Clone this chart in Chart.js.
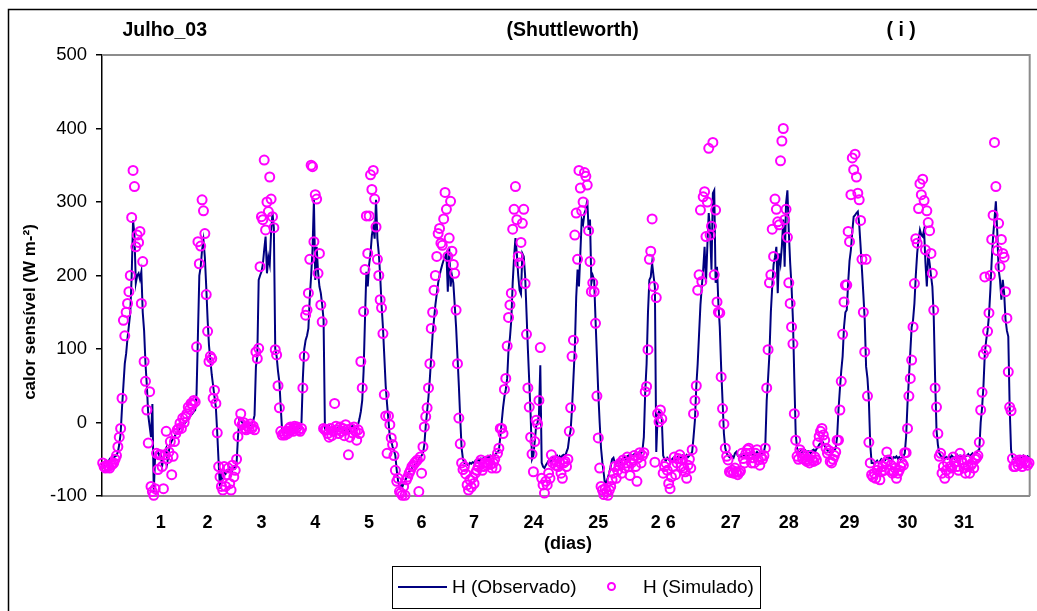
<!DOCTYPE html>
<html>
<head>
<meta charset="utf-8">
<title>Julho_03 (Shuttleworth)</title>
<script src="https://cdn.jsdelivr.net/npm/chart.js@4.4.0/dist/chart.umd.min.js"></script>
<style>
  body { margin: 0; background: #fff; }
  canvas { display: block; }
</style>
</head>
<body>
<canvas id="chart" width="1037" height="611"></canvas>
<script>
// day labels on the x axis and the half-hour slot where each one sits
const dayTickIndex = [42, 76, 115, 154, 193, 231, 269, 312, 359, 406, 455, 497, 541, 583, 624];
const dayTickText = ['1', '2', '3', '4', '5', '6', '7', '24', '25', '2 6', '27', '28', '29', '30', '31'];

// H observed (W m-2), half-hourly
const observado = [
  -55,-57,-52,-52,-54,-50,-53,-50,-48,-46,-45,-40,-30,-15,20,50,80,94,115,132,150,200,275,255,190,200,203,195,205,150,125,80,50,10,-5,-20,25,-95,
  -45,-42,-40,-45,-42,-60,-48,-40,-35,-52,-38,-30,-25,-22,-20,-15,-14,-10,-8,-6,-3,-2,0,3,5,8,10,12,15,17,
  40,120,200,212,235,248,225,185,140,105,85,65,50,35,20,-15,-55,-90,-70,
  -75,-68,-70,-65,-66,-62,-70,-64,-60,-62,-55,-20,5,3,0,-2,-3,-1,-4,-2,-3,-1,2,10,
  76,90,194,200,205,215,235,253,203,225,215,260,285,265,100,90,70,55,20,-12,
  -15,-14,-12,-12,-10,-9,-8,-8,-7,-6,-6,-8,-5,0,
  60,100,112,118,128,170,200,235,303,194,239,205,185,176,160,140,-10,
  -8,-12,-5,-10,-15,-8,-6,-12,-10,-5,-3,-10,-8,-14,-9,-6,-10,-12,-7,-4,-9,-11,-6,-3,5,
  15,30,70,140,205,185,215,230,255,266,250,303,250,230,200,160,130,90,50,25,3,-20,-25,-33,-38,-45,-65,
  -80,-87,-85,-88,-83,-80,-75,-70,-67,-65,-62,-60,-58,-56,-53,-50,-47,-45,-42,
  -30,-5,15,35,60,90,120,140,160,175,190,200,208,215,221,225,230,178,239,185,200,190,160,130,90,50,5,-35,-50,-55,
  -55,-57,-58,-55,-56,-54,-55,-52,-54,-50,-53,-49,-50,-48,-47,-50,-46,-48,-45,-46,-44,-45,-42,-40,-38,-20,
  0,20,35,45,60,100,115,140,190,225,251,230,200,180,175,230,226,200,150,100,55,10,-50,
  -45,-25,-5,0,10,78,-55,-60,-62,-58,-55,-52,-50,-55,-48,-50,-47,-45,-50,-46,-48,-45,-44,-46,-40,-35,-20,-10,
  20,60,100,170,208,185,230,276,270,285,290,303,262,276,190,200,194,140,90,40,0,-35,-55,-70,-87,
  -80,-75,-68,-60,-50,-48,-55,-57,-53,-52,-55,-50,-49,-47,-50,-46,-45,-47,-44,-45,-43,-42,-44,-41,-40,-42,-38,
  -20,42,80,150,194,198,217,200,185,-40,10,15,12,5,-45,
  -50,-52,-48,-50,-53,-51,-49,-47,-50,-48,-46,-49,-47,-45,-48,-46,-44,-47,-45,-43,-40,
  -20,3,49,80,120,160,185,208,239,189,240,285,260,208,312,316,190,212,162,130,75,30,-15,-35,-42,
  -45,-47,-44,-46,-48,-42,-40,-45,-47,-44,-46,-43,-45,-42,-44,-46,-43,-41,-44,-45,-43,-40,-42,-44,-41,-43,-40,-30,
  30,60,94,150,185,215,225,239,176,230,217,240,276,212,298,316,260,217,185,140,60,-15,-35,-40,
  -40,-38,-42,-40,-38,-41,-39,-40,-42,-38,-37,-40,-36,-34,-30,-28,-25,-28,-32,-35,-38,-40,-39,-42,-40,-38,-35,-20,
  17,45,70,90,130,150,153,190,220,235,260,280,282,285,287,270,240,208,175,140,76,60,30,-30,-55,
  -55,-57,-54,-52,-55,-53,-50,-52,-49,-51,-48,-50,-47,-49,-50,-47,-48,-46,-49,-47,-50,-48,-46,-42,
  -19,26,60,95,130,139,162,200,230,249,262,255,253,262,217,185,230,217,200,185,144,60,-10,-30,-42,
  -45,-48,-46,-50,-47,-49,-46,-48,-45,-47,-49,-46,-44,-47,-45,-48,-46,-44,-46,-45,-43,-46,-44,-42,-45,-43,-41,-38,
  -37,0,20,49,94,112,125,145,180,221,253,276,301,260,208,194,167,194,176,140,125,117,21,-37,-47,-50,
  -52,-50,-48,-50,-46,-48,-45,-47,-49,-46,-48
];

// H simulated (W m-2), same slots
const simulado = [
  -55,-60,-62,-58,-60,-62,-58,-57,-55,-50,-45,-33,-20,-8,33,139,118,150,162,178,200,279,343,321,239,255,245,260,162,219,83,56,17,-28,42,-87,-94,-99,
  -90,-42,-64,-44,-44,-60,-90,-44,-12,-49,-40,-26,-71,-46,-26,-15,-10,-8,-1,-8,6,0,8,12,21,18,26,24,30,28,
  103,246,216,240,303,288,257,174,124,83,90,87,33,44,26,-14,-60,-74,-87,
  -92,-60,-87,-71,-62,-83,-92,-58,-74,-65,-50,-19,1,12,-3,0,-8,-10,-5,-8,-2,-8,-5,-10,
  96,87,101,212,280,276,357,262,300,287,334,304,280,265,99,92,50,20,-12,-17,
  -15,-17,-12,-15,-8,-6,-10,-12,-5,-8,-6,-10,-12,-8,
  47,90,146,153,176,222,350,348,246,310,304,203,230,160,137,-8,-10,
  -10,-15,-20,-8,-18,-12,26,-5,-10,-15,-6,-12,-8,-18,-3,-10,-44,-20,-8,-14,-6,-12,-24,-10,-15,
  83,47,151,208,281,230,281,337,317,343,304,266,222,200,167,156,121,38,9,-42,9,-3,-21,-30,-45,-65,-80,
  -76,-94,-96,-99,-87,-99,-78,-74,-69,-65,-60,-58,-55,-53,-51,-94,-47,-69,-33,
  -6,8,20,47,80,128,150,180,200,226,257,264,244,241,277,313,290,226,251,301,233,215,203,153,80,6,-29,-55,-64,-60,
  -70,-85,-92,-78,-88,-75,-83,-69,-65,-60,-55,-51,-65,-60,-55,-58,-55,-51,-57,-62,-55,-50,-62,-42,-35,-8,
  -8,-15,45,60,104,143,160,176,263,290,321,276,226,217,245,271,290,189,120,47,21,-20,-43,
  -67,-26,3,-2,30,102,-76,-85,-96,-80,-85,-69,-76,-44,-55,-52,-58,-53,-60,-55,-69,-76,-55,-53,-60,-50,-12,20,
  90,112,255,285,222,343,319,288,300,340,335,323,261,219,178,190,178,135,36,-21,-62,-87,-92,-98,-90,
  -94,-99,-92,-87,-78,-69,-60,-76,-65,-58,-55,-69,-51,-62,-55,-47,-60,-72,-55,-51,-45,-60,-80,-48,-41,-55,-45,
  -41,42,49,99,222,233,277,185,-54,170,12,1,17,5,-69,
  -60,-55,-65,-83,-90,-74,-60,-47,-71,-55,-49,-44,-60,-51,-62,-67,-76,-58,-50,-62,-37,
  12,30,50,180,201,289,192,307,314,253,300,373,255,267,381,201,289,164,150,149,62,19,-2,-35,-46,
  -51,-67,-68,-65,-69,-62,-67,-71,-68,-66,-42,-49,-55,-42,-37,-35,-42,-55,-48,-55,-42,-37,-51,-58,-47,-50,-45,-35,
  47,99,190,201,263,226,304,290,273,269,356,383,400,276,290,252,190,162,130,107,12,-24,-46,-50,
  -37,-42,-49,-44,-51,-53,-50,-55,-45,-51,-53,-47,-51,-28,-19,-12,-8,-17,-24,-35,-42,-38,-53,-55,-50,-45,-40,-24,
  -24,17,56,120,164,187,187,260,246,310,360,344,365,334,312,303,275,222,150,96,222,36,-27,-55,-71,
  -74,-69,-76,-65,-60,-78,-67,-60,-65,-55,-40,-51,-65,-58,-69,-67,-62,-76,-69,-65,-60,-55,-58,-41,
  -41,-8,36,60,85,130,189,250,244,291,325,310,331,302,235,288,272,261,230,203,153,47,21,-15,-46,
  -42,-69,-60,-76,-65,-55,-69,-60,-62,-47,-55,-53,-60,-65,-42,-51,-55,-62,-69,-51,-60,-69,-58,-55,-62,-50,-48,-45,
  -27,17,41,93,198,99,124,149,200,249,282,381,321,234,271,212,249,230,225,178,142,69,21,16,-49,-60,
  -60,-53,-58,-51,-55,-60,-51,-55,-53,-58,-55
];

const FONT = '"Liberation Sans", Arial, sans-serif';

const labels = observado.map((v, i) => {
  const k = dayTickIndex.indexOf(i);
  return k >= 0 ? dayTickText[k] : '';
});

// white page, plot frame, titles and the boxed legend
const decor = {
  id: 'decor',
  beforeDraw(chart) {
    const ctx = chart.ctx;
    ctx.save();
    ctx.fillStyle = '#fff';
    ctx.fillRect(0, 0, chart.width, chart.height);
    ctx.restore();
  },
  beforeDatasetsDraw(chart) {
    const { ctx, chartArea: a } = chart;
    ctx.save();
    ctx.strokeStyle = '#8c8c8c';
    ctx.lineWidth = 2;
    ctx.beginPath();
    ctx.moveTo(a.left, a.top);
    ctx.lineTo(a.right, a.top);
    ctx.lineTo(a.right, a.bottom);
    ctx.stroke();
    ctx.restore();
  },
  afterDraw(chart) {
    const ctx = chart.ctx;
    ctx.save();
    // outer frame (only left and top edges are inside the picture)
    ctx.strokeStyle = '#000';
    ctx.lineWidth = 1.5;
    ctx.strokeRect(8.5, 9.5, 1100, 700);

    ctx.fillStyle = '#000';
    ctx.textBaseline = 'alphabetic';
    ctx.textAlign = 'left';
    ctx.font = 'bold 19.5px ' + FONT;
    ctx.fillText('Julho_03', 122.5, 36);
    ctx.fillText('(Shuttleworth)', 506.5, 36);
    ctx.fillText('( i )', 886.5, 36);

    ctx.textAlign = 'center';
    ctx.font = 'bold 18px ' + FONT;
    ctx.fillText('(dias)', 568, 549);

    ctx.save();
    ctx.translate(30, 312);
    ctx.rotate(-Math.PI / 2);
    ctx.textBaseline = 'middle';
    ctx.font = 'bold 17px ' + FONT;
    ctx.fillText('calor sensível (W m-²)', 0, 0);
    ctx.restore();

    // legend
    ctx.strokeStyle = '#000';
    ctx.lineWidth = 1;
    ctx.strokeRect(392.5, 566.5, 368, 42);
    ctx.strokeStyle = '#000080';
    ctx.lineWidth = 2;
    ctx.beginPath();
    ctx.moveTo(398, 587);
    ctx.lineTo(447, 587);
    ctx.stroke();
    ctx.strokeStyle = '#ff00ff';
    ctx.beginPath();
    ctx.arc(611.5, 586.5, 3.5, 0, Math.PI * 2);
    ctx.stroke();
    ctx.fillStyle = '#000';
    ctx.textAlign = 'left';
    ctx.font = '19px ' + FONT;
    ctx.fillText('H (Observado)', 452, 593);
    ctx.fillText('H (Simulado)', 643, 593);
    ctx.restore();
  }
};

new Chart(document.getElementById('chart'), {
  type: 'line',
  data: {
    labels: labels,
    datasets: [
      {
        label: 'H (Observado)',
        data: observado,
        borderColor: '#000080',
        borderWidth: 2,
        pointRadius: 0,
        fill: false,
        tension: 0,
        order: 2
      },
      {
        label: 'H (Simulado)',
        data: simulado,
        showLine: false,
        pointStyle: 'circle',
        pointRadius: 4.5,
        pointBorderWidth: 2,
        borderColor: '#ff00ff',
        pointBorderColor: '#ff00ff',
        pointBackgroundColor: 'rgba(255,255,255,0)',
        clip: false,
        order: 1
      }
    ]
  },
  options: {
    responsive: false,
    animation: false,
    events: [],
    layout: { padding: { top: 55, right: 4, left: 0, bottom: 0 } },
    plugins: {
      legend: { display: false },
      tooltip: { enabled: false },
      title: { display: false }
    },
    scales: {
      x: {
        offset: true,
        grid: { display: false },
        border: { color: '#8c8c8c', width: 2 },
        ticks: {
          autoSkip: false,
          maxRotation: 0,
          minRotation: 0,
          padding: 8,
          color: '#000',
          font: { family: FONT, size: 18, weight: 'bold' }
        },
        afterFit(s) { s.height = 115; }
      },
      y: {
        min: -100,
        max: 500,
        grid: { drawOnChartArea: false, drawTicks: true, tickLength: 6, color: '#000', lineWidth: 1.5 },
        border: { color: '#000', width: 1.5 },
        ticks: {
          stepSize: 100,
          padding: 9,
          color: '#000',
          font: { family: FONT, size: 18.5 }
        },
        afterFit(s) { s.width = 102; }
      }
    }
  },
  plugins: [decor]
});
</script>
</body>
</html>
